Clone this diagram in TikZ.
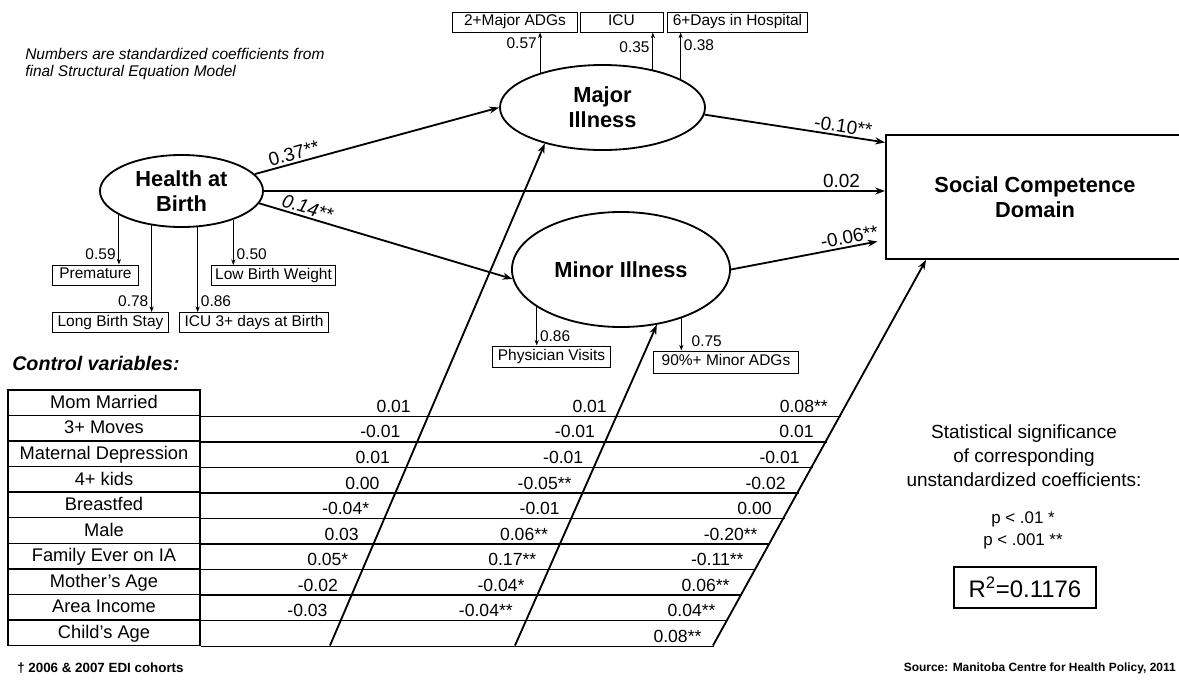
\documentclass[tikz,border=0pt]{standalone}
\usepackage{fontspec}
\setmainfont{Liberation Sans}
\usetikzlibrary{shapes.geometric,arrows.meta}
\newcommand{\pone}{*}
\newcommand{\ptwo}{**}
\begin{document}
\begin{tikzpicture}[x=0.025cm,y=-0.025cm,
    latent/.style={ellipse,draw,line width=1.3pt,inner sep=0pt,align=center,
      font=\fontsize{15.5}{18}\selectfont\bfseries},
    indbox/.style={draw,line width=0.7pt,inner sep=0pt,minimum height=0.5cm,
      text height=0.72em,text depth=0.2em,font=\fontsize{11}{13}\selectfont},
    indarrow/.style={line width=0.7pt,-{Stealth[length=4pt,width=3pt]}},
    coef/.style={inner sep=2pt,font=\fontsize{11}{13}\selectfont},
    effect/.style={line width=1.3pt,-{Stealth[length=7pt,width=5pt]}},
    effectlab/.style={above,sloped,inner sep=1.5pt,font=\fontsize{13.5}{15}\selectfont},
    rowlab/.style={draw,line width=1pt,inner sep=0pt,minimum width=4.8cm,
      minimum height=0.639cm,text height=0.9em,text depth=0.1em,
      font=\fontsize{13}{15}\selectfont},
    cell/.style={anchor=base east,inner sep=0pt,font=\fontsize{12.5}{14}\selectfont}]

\useasboundingbox (0,0) rectangle (1179,680);

\node[anchor=north west,inner sep=0pt,align=left,font=\fontsize{11}{12}\selectfont\itshape] (note) at (25,48)
  {Numbers are standardized coefficients from\\final Structural Equation Model};

\node[latent,minimum width=4.075cm,minimum height=1.8cm] (health) at (181.5,191) {Health at\\Birth};
\node[latent,minimum width=5.125cm,minimum height=2.125cm] (major) at (602.5,107.5) {Major\\Illness};
\node[latent,minimum width=5.45cm,minimum height=2.875cm] (minor) at (621,269.5) {Minor Illness};
\node[draw,line width=1.3pt,minimum width=7.45cm,minimum height=3.1cm,align=center,
  font=\fontsize{15.5}{18}\selectfont\bfseries] (social) at (1035,197) {Social Competence\\Domain};

\node[indbox,minimum width=3.1cm] (majadg) at (515,22) {2+Major ADGs};
\node[indbox,minimum width=2.075cm] (icu) at (621.5,22) {ICU};
\node[indbox,minimum width=3.475cm] (days) at (737.5,22) {6+Days in Hospital};
\node[indbox,minimum width=2.125cm] (prem) at (95.5,275) {Premature};
\node[indbox,minimum width=3.075cm] (lbw) at (273.5,275.5) {Low Birth Weight};
\node[indbox,minimum width=2.875cm] (lbs) at (110.5,322.5) {Long Birth Stay};
\node[indbox,minimum width=3.7cm] (icub) at (254,322.5) {ICU 3+ days at Birth};
\node[indbox,minimum width=2.925cm,minimum height=0.525cm] (phys) at (551.5,356.5) {Physician Visits};
\node[indbox,minimum width=3.6cm,minimum height=0.55cm] (minadg) at (726,362) {90\%+ Minor ADGs};

\draw[indarrow] (health.-159) -- node[coef,left,pos=0.8] {0.59} (health.-159 |- prem.north);
\draw[indarrow] (health.-131) -- node[coef,left,pos=0.87] {0.78} (health.-131 |- lbs.north);
\draw[indarrow] (health.-66) -- node[coef,right,pos=0.87] {0.86} (health.-66 |- icub.north);
\draw[indarrow] (health.-29) -- node[coef,right,pos=0.76] {0.50} (health.-29 |- lbw.north);
\draw[indarrow] (major.151) -- node[coef,left,pos=0.73] {0.57} (major.151 |- majadg.south);
\draw[indarrow] (major.37) -- node[coef,left,pos=0.61] {0.35} (major.37 |- icu.south);
\draw[indarrow] (major.20) -- node[coef,right,pos=0.72] {0.38} (major.20 |- days.south);
\draw[indarrow] (minor.-156) -- node[coef,right,pos=0.75] {0.86} (minor.-156 |- phys.north);
\draw[indarrow] (minor.-39) -- node[coef,right,xshift=5pt,pos=0.7] {0.75} (minor.-39 |- minadg.north);

\draw[effect] (health.13) -- node[effectlab,pos=0.17] {0.37\ptwo} (major.west);
\draw[effect] (health.east) -- node[effectlab,pos=0.93] {0.02} (health.east -| social.west);
\draw[effect] (health.-9) -- node[effectlab,pos=0.18,font=\fontsize{13.5}{15}\selectfont\itshape] {0.14\ptwo} (minor.185);
\draw[effect] (major.-4) -- node[effectlab,pos=0.76] {-0.10\ptwo} (social.160);
\draw[effect,shorten >=5.5pt] (minor.east) -- node[effectlab,pos=0.78] {-0.06\ptwo} (social.196);

\node[anchor=west,inner sep=0pt,font=\fontsize{14}{16}\selectfont\bfseries\itshape] (ctrl) at (12,363) {Control variables:};

\foreach \lab [count=\i] in {Mom Married,3+ Moves,Maternal Depression,4+ kids,Breastfed,Male,Family Ever on IA,Mother's Age,Area Income,Child's Age}
  \node[rowlab] (row\i) at (104,{390+25.55*(\i-0.5)}) {\lab};
\foreach \k in {1,...,10}
  \draw[line width=1pt] (row\k.south east) -- ++({713+0.5552*25.55*(10-\k)-200},0);
\foreach \va/\vb/\vc [count=\i] in {0.01/0.01/0.08\ptwo, -0.01/-0.01/0.01, 0.01/-0.01/-0.01,
    0.00/-0.05\ptwo/-0.02, -0.04\pone/-0.01/0.00, 0.03/0.06\ptwo/-0.20\ptwo,
    0.05\pone/0.17\ptwo/-0.11\ptwo, -0.02/-0.04\pone/0.06\ptwo, -0.03/-0.04\ptwo/0.04\ptwo, //0.08\ptwo} {
  \node[cell] (va\i) at ({411-10.4*(\i-1)},{399.6+25.55*(\i-0.5)}) {\va};
  \node[cell] (vb\i) at ({607-11.75*(\i-1)},{399.6+25.55*(\i-0.5)}) {\vb};
  \node[cell] (vc\i) at ({828-14.03*(\i-1)},{399.6+25.55*(\i-0.5)}) {\vc};
}

\coordinate (c1) at (330,645.5);
\coordinate (c2) at (515,645.5);
\coordinate (c3) at (713,645.5);
\draw[effect] (c1) -- (major.212);
\draw[effect] (c2) -- (minor.-57);
\draw[effect] (c3) -- (social.210);

\node[align=center,font=\fontsize{13.5}{17}\selectfont] (sigtitle) at (1024,456)
  {Statistical significance\\of corresponding\\unstandardized coefficients:};
\node[align=center,font=\fontsize{12}{15.6}\selectfont] (plevels) at (1023,530) {p < .01 \pone\\p < .001 \ptwo};
\node[draw,line width=1pt,minimum width=3.55cm,minimum height=1.025cm,
  font=\fontsize{17}{20}\selectfont] (rsq) at (1025,587.5) {R\textsuperscript{2}=0.1176};

\node[anchor=west,inner sep=0pt,font=\fontsize{9.5}{11}\selectfont\bfseries] (cohorts) at (17,668) {† 2006 \& 2007 EDI cohorts};
\node[anchor=east,inner sep=0pt,font=\fontsize{8.5}{10}\selectfont\bfseries] (source) at (1176,668) {Source: Manitoba Centre for Health Policy, 2011};
\end{tikzpicture}
\end{document}
